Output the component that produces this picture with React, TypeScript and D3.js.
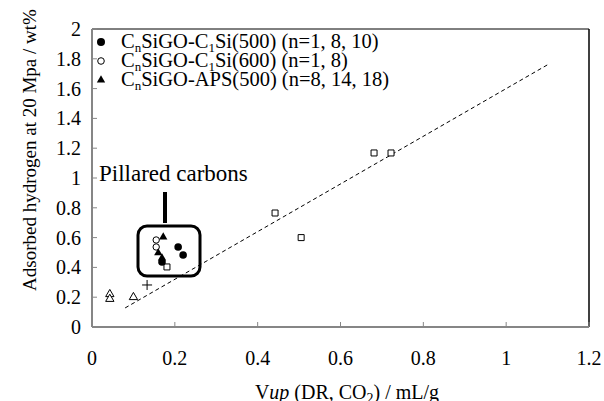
import React from "react";
import * as d3 from "d3";

// values
const xTicks = [0, 0.2, 0.4, 0.6, 0.8, 1, 1.2];
const yTicks = [0, 0.2, 0.4, 0.6, 0.8, 1, 1.2, 1.4, 1.6, 1.8, 2];

// CnSiGO-C1Si(500)
const filledCircles = [
  [0.169, 0.436],
  [0.208, 0.537],
  [0.22, 0.483],
];
// CnSiGO-C1Si(600)
const openCircles = [
  [0.155, 0.584],
  [0.155, 0.537],
];
// CnSiGO-APS(500)
const filledTriangles = [
  [0.172, 0.604],
  [0.16, 0.497],
  [0.169, 0.463],
];
// other carbons (no legend entry)
const openSquares = [
  [0.181, 0.403],
  [0.442, 0.765],
  [0.505, 0.6],
  [0.681, 1.168],
  [0.722, 1.168],
];
const openTriangles = [
  [0.043, 0.22],
  [0.043, 0.188],
  [0.1, 0.2],
];
const plusPoints = [[0.133, 0.282]];
const trendX = [0.08, 1.1];
const trendSlope = 1.6;

const W = 604;
const H = 401;
const m = { left: 92, right: 15, top: 29, bottom: 74 };

const AXIS = "#868686";
const FONT = "Liberation Serif, DejaVu Serif, serif";

export default function App() {
  const x = d3.scaleLinear().domain([0, 1.2]).range([m.left, W - m.right]);
  const y = d3.scaleLinear().domain([0, 2]).range([H - m.bottom, m.top]);
  const tri = d3.symbol().type(d3.symbolTriangle).size(30)();
  const sq = d3.symbol().type(d3.symbolSquare).size(36)();
  const line = d3.line<number>()
    .x((v) => x(v))
    .y((v) => y(v * trendSlope));

  const legend = [
    { kind: "fc", main: "SiGO-C", sub2: "1", rest: "Si(500) (n=1, 8, 10)" },
    { kind: "oc", main: "SiGO-C", sub2: "1", rest: "Si(600) (n=1, 8)" },
    { kind: "ft", main: "SiGO-APS(500) (n=8, 14, 18)", sub2: "", rest: "" },
  ];

  return (
    <svg width={W} height={H} style={{ position: "absolute", left: 0, top: 0, background: "#fff" }}>
      {/* plot frame */}
      <line x1={m.left} x2={W - m.right} y1={m.top} y2={m.top} stroke="#000" strokeWidth={1} />
      <line x1={W - m.right} x2={W - m.right} y1={m.top} y2={y(0)} stroke="#000" strokeWidth={1.5} />

      {/* axes */}
      <line x1={m.left} x2={m.left} y1={m.top} y2={y(0)} stroke={AXIS} strokeWidth={2} />
      <line x1={m.left} x2={W - m.right} y1={y(0)} y2={y(0)} stroke={AXIS} strokeWidth={2} />
      {yTicks.map((t) => (
        <g key={"y" + t}>
          <line x1={m.left} x2={m.left + 5} y1={y(t)} y2={y(t)} stroke={AXIS} strokeWidth={1} />
          <text x={81} y={y(t)} dy="0.35em" textAnchor="end" fontFamily={FONT} fontSize={20}>
            {t}
          </text>
        </g>
      ))}
      {xTicks.map((t) => (
        <g key={"x" + t}>
          <line x1={x(t)} x2={x(t)} y1={y(0)} y2={y(0) - 5} stroke={AXIS} strokeWidth={1} />
          <text x={x(t)} y={365} textAnchor="middle" fontFamily={FONT} fontSize={20}>
            {t}
          </text>
        </g>
      ))}

      {/* axis titles */}
      <text x={347} y={399} textAnchor="middle" fontFamily={FONT} fontSize={20}>
        V<tspan fontStyle="italic">up</tspan> (DR, CO<tspan fontSize={14} dy={4}>2</tspan>
        <tspan dy={-4}>) / mL/g</tspan>
      </text>
      <text
        transform={`translate(36,150) rotate(-90)`}
        textAnchor="middle"
        fontFamily={FONT}
        fontSize={19}
      >
        Adsorbed hydrogen at 20 Mpa / wt%
      </text>

      {/* trend line */}
      <path d={line(trendX) || ""} fill="none" stroke="#000" strokeWidth={1} strokeDasharray="4,3" />

      {/* pillared carbons annotation */}
      <rect x={138} y={226} width={62} height={50} rx={9} fill="none" stroke="#000" strokeWidth={3} />
      <line x1={165} x2={165} y1={192} y2={223} stroke="#000" strokeWidth={4} />
      <text x={99} y={181} fontFamily={FONT} fontSize={23}>
        Pillared carbons
      </text>

      {/* points */}
      {openSquares.map((d, i) => (
        <path key={"s" + i} d={sq} transform={`translate(${x(d[0])},${y(d[1])})`} fill="#fff" stroke="#000" strokeWidth={1} />
      ))}
      {openTriangles.map((d, i) => (
        <path key={"ot" + i} d={tri} transform={`translate(${x(d[0])},${y(d[1])})`} fill="#fff" stroke="#000" strokeWidth={1} />
      ))}
      {plusPoints.map((d, i) => (
        <path
          key={"p" + i}
          d={`M${x(d[0]) - 5},${y(d[1])}H${x(d[0]) + 5}M${x(d[0])},${y(d[1]) - 5}V${y(d[1]) + 5}`}
          stroke="#000"
          strokeWidth={1}
        />
      ))}
      {openCircles.map((d, i) => (
        <circle key={"oc" + i} cx={x(d[0])} cy={y(d[1])} r={3.2} fill="#fff" stroke="#000" strokeWidth={1} />
      ))}
      {filledTriangles.map((d, i) => (
        <path key={"ft" + i} d={tri} transform={`translate(${x(d[0])},${y(d[1])})`} fill="#000" />
      ))}
      {filledCircles.map((d, i) => (
        <circle key={"fc" + i} cx={x(d[0])} cy={y(d[1])} r={3.8} fill="#000" />
      ))}

      {/* legend */}
      {legend.map((l, i) => {
        const ly = 42 + i * 19;
        return (
          <g key={"l" + i}>
            {l.kind === "fc" && <circle cx={101} cy={ly} r={4} fill="#000" />}
            {l.kind === "oc" && <circle cx={101} cy={ly} r={3.3} fill="#fff" stroke="#000" />}
            {l.kind === "ft" && <path d={tri} transform={`translate(101,${ly})`} fill="#000" />}
            <text x={121} y={ly + 6} fontFamily={FONT} fontSize={20.5}>
              C<tspan fontSize={13} dy={4}>n</tspan>
              <tspan dy={-4}>{l.main}</tspan>
              {l.sub2 && (
                <tspan fontSize={13} dy={4}>
                  {l.sub2}
                </tspan>
              )}
              {l.sub2 && <tspan dy={-4}>{l.rest}</tspan>}
            </text>
          </g>
        );
      })}
    </svg>
  );
}
